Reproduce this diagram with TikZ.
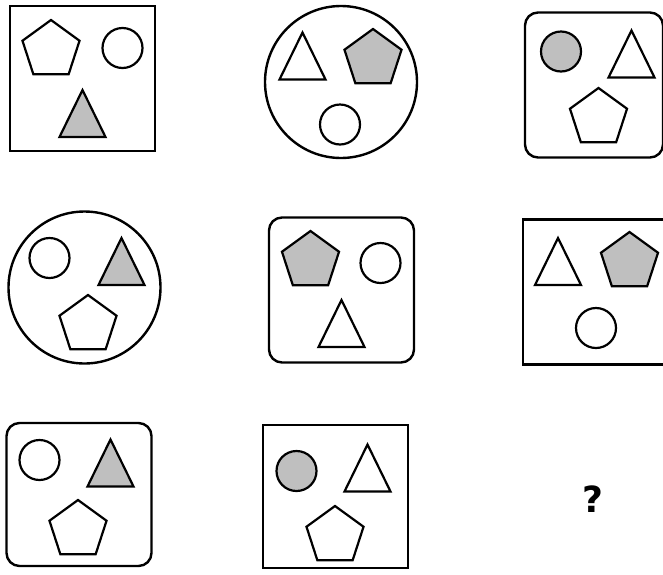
\documentclass[tikz,border=0pt]{standalone}
\usepackage{fontspec}
\newfontfamily\qfont{DejaVu Sans}
\usetikzlibrary{shapes.geometric}

\begin{document}
\begin{tikzpicture}[x=1pt, y=-1pt,
  box/.style={draw, line width=2.4pt, inner sep=0pt, minimum width=145pt, minimum height=145pt},
  rbox/.style={box, rounded corners=13pt},
  ring/.style={draw, circle, line width=2.4pt, inner sep=0pt, minimum size=152pt},
  fig/.style={draw, line width=2.2pt, inner sep=0pt},
  dot/.style={fig, circle, minimum size=40pt},
  pent/.style={fig, regular polygon, regular polygon sides=5, minimum size=60pt},
  shade/.style={fill=gray!50},
  tri/.pic={\draw[line width=2.2pt, pic actions] (-23,24) -- (0,-23) -- (23,24) -- cycle;}
]
  \useasboundingbox (0,0) rectangle (663,574);

  % First row
  \node[box] (f1) at (82.5,78.5) {};
  \node[pent] (p1) at (51,50) {};
  \node[dot] (c1) at (122.5,48) {};
  \pic[shade] (t1) at (82.5,113) {tri};

  \node[ring] (f2) at (341,82) {};
  \pic (t2) at (302.5,55.5) {tri};
  \node[pent, shade] (p2) at (373,59) {};
  \node[dot] (c2) at (340,124.5) {};

  \node[rbox, minimum width=138pt] (f3) at (594,85) {};
  \node[dot, shade] (c3) at (561,51.5) {};
  \pic (t3) at (631.5,53.5) {tri};
  \node[pent] (p3) at (598.5,118) {};

  % Second row
  \node[ring] (f4) at (84.5,287.5) {};
  \node[dot] (c4) at (49.5,258) {};
  \pic[shade] (t4) at (121.5,261) {tri};
  \node[pent] (p4) at (88,325) {};

  \node[rbox] (f5) at (341.5,290) {};
  \node[pent, shade] (p5) at (310.5,261) {};
  \node[dot] (c5) at (380.5,263) {};
  \pic (t5) at (341.5,323) {tri};

  \node[box] (f6) at (595.5,292) {};
  \pic (t6) at (558,261) {tri};
  \node[pent, shade] (p6) at (629.5,262) {};
  \node[dot] (c6) at (596,328) {};

  % Third row, the last cell is the question
  \node[rbox, minimum height=143pt] (f7) at (79,494.5) {};
  \node[dot] (c7) at (39.5,460) {};
  \pic[shade] (t7) at (110.5,462.5) {tri};
  \node[pent] (p7) at (78,530) {};

  \node[box, minimum height=143pt] (f8) at (335.5,496.5) {};
  \node[dot, shade] (c8) at (296.5,471) {};
  \pic (t8) at (367.5,467.5) {tri};
  \node[pent] (p8) at (335,536) {};

  \node[font=\qfont\bfseries\fontsize{36}{36}\selectfont, inner sep=0pt] (q) at (593,499) {?};
\end{tikzpicture}
\end{document}
